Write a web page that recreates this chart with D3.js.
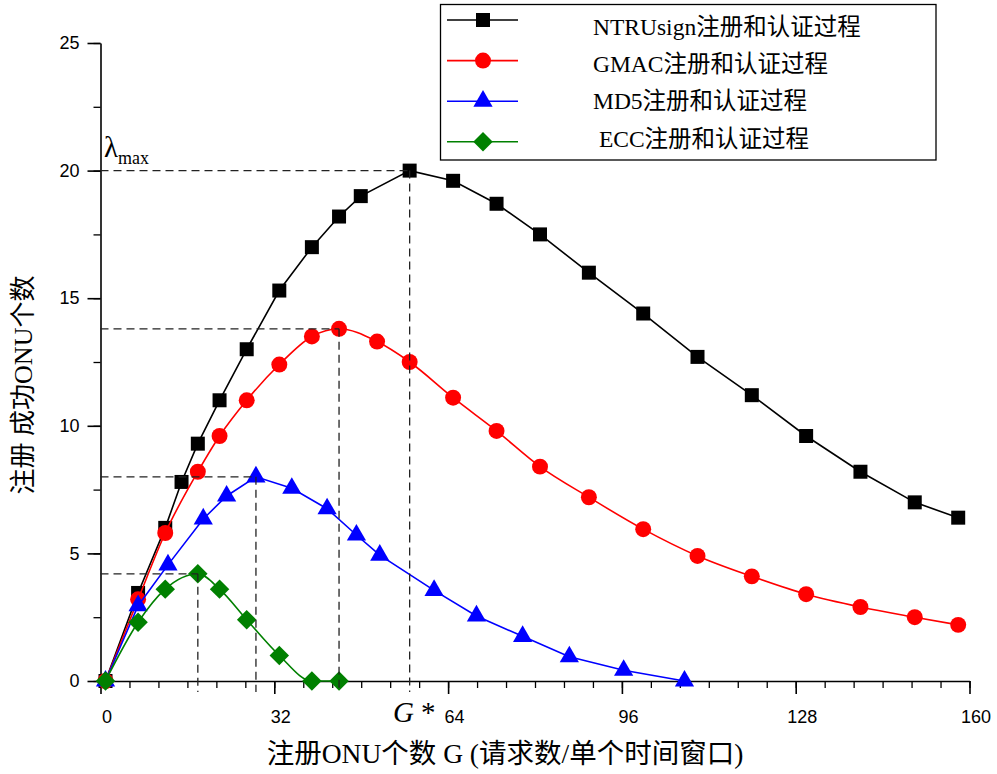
<!DOCTYPE html>
<html>
<head>
<meta charset="utf-8">
<script src="https://cdn.jsdelivr.net/npm/d3@7"></script>
<style>
  body { margin: 0; background: #fff; }
  svg { display: block; }
  .tick text { font-family: "Liberation Sans", Arial, sans-serif; font-size: 18px; fill: #000; }
  .serif { font-family: "Liberation Serif", "Times New Roman", "Noto Sans CJK SC", serif; fill: #000; }
</style>
</head>
<body>
<div id="chart"></div>
<script>
// x values (G) and y values for every curve
const G_NTRU = [0, 6, 11, 14, 17, 21, 26, 32, 38, 43, 47, 56, 64, 72, 80, 89, 99, 109, 119, 129, 139, 149, 157];
const V_NTRU = [0, 3.45, 6.0, 7.8, 9.3, 11.0, 13.0, 15.3, 17.0, 18.2, 19.0, 20.0, 19.6, 18.7, 17.5, 16.0, 14.4, 12.7, 11.2, 9.6, 8.2, 7.0, 6.4];

const G_GMAC = [0, 6, 11, 17, 21, 26, 32, 38, 43, 50, 56, 64, 72, 80, 89, 99, 109, 119, 129, 139, 149, 157];
const V_GMAC = [0, 3.2, 5.8, 8.2, 9.6, 11.0, 12.4, 13.5, 13.8, 13.3, 12.5, 11.1, 9.8, 8.4, 7.2, 5.95, 4.9, 4.1, 3.4, 2.9, 2.5, 2.2];

const G_MD5 = [0, 6, 11.5, 18, 22.3, 27.7, 34.3, 40.8, 46.2, 50.5, 60.5, 68.3, 76.8, 85.4, 95.4, 106.6];
const V_MD5 = [0, 2.95, 4.55, 6.35, 7.25, 8.0, 7.55, 6.75, 5.72, 4.93, 3.55, 2.55, 1.75, 0.95, 0.42, 0];

const G_ECC = [0, 6, 11, 17, 21, 26, 32, 38, 43];
const V_ECC = [0, 2.3, 3.6, 4.2, 3.6, 2.4, 1.0, 0, 0];

const seriesNames = ["NTRUsign注册和认证过程", "GMAC注册和认证过程", "MD5注册和认证过程", " ECC注册和认证过程"];
const seriesColors = ["#000000", "#ff0000", "#0000ff", "#008000"];
const seriesSymbols = ["square", "circle", "triangle", "diamond"];
const seriesCurves = [d3.curveLinear, d3.curveMonotoneX, d3.curveLinear, d3.curveMonotoneX];

const xTicks = [0, 32, 64, 96, 128, 160];
const yTicks = [0, 5, 10, 15, 20, 25];

const xTitle = "注册ONU个数 G (请求数/单个时间窗口)";
const yTitle = "注册 成功ONU个数";

const width = 997, height = 774;

const series = [
    {g: G_NTRU, v: V_NTRU},
    {g: G_GMAC, v: V_GMAC},
    {g: G_MD5, v: V_MD5},
    {g: G_ECC, v: V_ECC}
].map((s, i) => ({
    name: seriesNames[i],
    color: seriesColors[i],
    symbol: seriesSymbols[i],
    curve: seriesCurves[i],
    points: s.g.map((g, j) => ({x: g, y: s.v[j]}))
}));

const svg = d3.select("#chart").append("svg")
    .attr("width", width)
    .attr("height", height);

svg.append("rect").attr("width", width).attr("height", height).attr("fill", "#fff");

// scales (origin ticks sit a few pixels left of the plotted zero, as in the source)
const x = d3.scaleLinear().domain([0, 160]).range([105.5, 974.5]);
const y = d3.scaleLinear().domain([0, 25]).range([681, 43]);
const tickShift = -5;
const axisY = y(0);
const axisX = x(0) + tickShift;

// x axis
const xMinor = d3.range(0, 160.001, 32 / 6);
svg.append("g")
    .attr("transform", `translate(${tickShift}, ${axisY})`)
    .call(d3.axisBottom(x).tickValues(xMinor).tickSize(7).tickSizeOuter(0).tickFormat(""))
    .call(g => g.select(".domain").remove())
    .selectAll("line").attr("stroke", "#000").attr("stroke-width", 1.3);

const xAxisG = svg.append("g")
    .attr("transform", `translate(${tickShift}, ${axisY})`)
    .call(d3.axisBottom(x).tickValues(xTicks).tickSize(13).tickSizeOuter(0).tickPadding(16));
xAxisG.select(".domain").attr("stroke", "#000").attr("stroke-width", 1.6);
xAxisG.selectAll(".tick line").attr("stroke", "#000").attr("stroke-width", 1.6);
xAxisG.selectAll(".tick text").attr("dx", -tickShift + 1);

// y axis
const yMinor = d3.range(0, 25.001, 2.5);
svg.append("g")
    .attr("transform", `translate(${axisX}, 0)`)
    .call(d3.axisLeft(y).tickValues(yMinor).tickSize(7).tickSizeOuter(0).tickFormat(""))
    .call(g => g.select(".domain").remove())
    .selectAll("line").attr("stroke", "#000").attr("stroke-width", 1.3);

const yAxisG = svg.append("g")
    .attr("transform", `translate(${axisX}, 0)`)
    .call(d3.axisLeft(y).tickValues(yTicks).tickSize(13).tickSizeOuter(0).tickPadding(8));
yAxisG.select(".domain").attr("stroke", "#000").attr("stroke-width", 1.6);
yAxisG.selectAll(".tick line").attr("stroke", "#000").attr("stroke-width", 1.6);

// axis titles
svg.append("text")
    .attr("class", "serif")
    .attr("x", 505)
    .attr("y", 763)
    .attr("text-anchor", "middle")
    .attr("font-size", "27.5px")
    .style("white-space", "pre")
    .text(xTitle);

svg.append("text")
    .attr("class", "serif")
    .attr("transform", "translate(32, 385) rotate(-90)")
    .attr("text-anchor", "middle")
    .attr("font-size", "26px")
    .style("white-space", "pre")
    .text(yTitle);

// marker helper
function symbolPath(kind) {
    if (kind === "square") return d3.symbol(d3.symbolSquare, 196)();
    if (kind === "circle") return d3.symbol(d3.symbolCircle, 200)();
    if (kind === "triangle") return d3.symbol(d3.symbolTriangle, 160)();
    return d3.symbol(d3.symbolSquare, 190)();
}
function symbolRotate(kind) { return kind === "diamond" ? " rotate(45)" : ""; }

// curves with markers
series.forEach(s => {
    const line = d3.line()
        .x(d => x(d.x))
        .y(d => y(d.y))
        .curve(s.curve);
    const g = svg.append("g");
    g.append("path")
        .datum(s.points)
        .attr("fill", "none")
        .attr("stroke", s.color)
        .attr("stroke-width", 1.6)
        .attr("d", line);
    g.selectAll("path.mark")
        .data(s.points)
        .enter().append("path")
        .attr("class", "mark")
        .attr("d", symbolPath(s.symbol))
        .attr("transform", d => `translate(${x(d.x)}, ${y(d.y)})` + symbolRotate(s.symbol))
        .attr("fill", s.color);
});

// dashed guides to the peak of every curve
series.forEach(s => {
    const p = s.points[d3.maxIndex(s.points, d => d.y)];
    const px = x(p.x), py = y(p.y);
    svg.append("path")
        .attr("d", `M${axisX},${py}H${px}M${px},${py}V${axisY + 11}`)
        .attr("fill", "none")
        .attr("stroke", "#222")
        .attr("stroke-width", 1.3)
        .attr("stroke-dasharray", "8,5");
});

// lambda max / G* labels
const lam = svg.append("text").attr("class", "serif").attr("x", 104).attr("y", 157);
lam.append("tspan").attr("font-size", "29px").text("λ");
lam.append("tspan").attr("font-size", "18px").attr("dy", 7).text("max");

const gs = svg.append("text").attr("class", "serif").attr("x", 393).attr("y", 722).attr("font-size", "29px");
gs.append("tspan").attr("font-style", "italic").text("G");
gs.append("tspan").attr("dx", 7).text("*");

// legend
const legend = svg.append("g");
legend.append("rect")
    .attr("x", 440.5).attr("y", 4.5)
    .attr("width", 495.5).attr("height", 155.5)
    .attr("fill", "#fff")
    .attr("stroke", "#000")
    .attr("stroke-width", 1.3);

series.forEach((s, i) => {
    const ry = 20 + i * 40.6;
    legend.append("line")
        .attr("x1", 447).attr("x2", 518)
        .attr("y1", ry).attr("y2", ry)
        .attr("stroke", s.color).attr("stroke-width", 1.6);
    legend.append("path")
        .attr("d", symbolPath(s.symbol))
        .attr("transform", `translate(483, ${ry})` + symbolRotate(s.symbol))
        .attr("fill", s.color);
    legend.append("text")
        .attr("class", "serif")
        .attr("x", 593)
        .attr("y", 35 + i * 37.2)
        .attr("font-size", "23.5px")
        .style("white-space", "pre")
        .text(s.name);
});
</script>
</body>
</html>
